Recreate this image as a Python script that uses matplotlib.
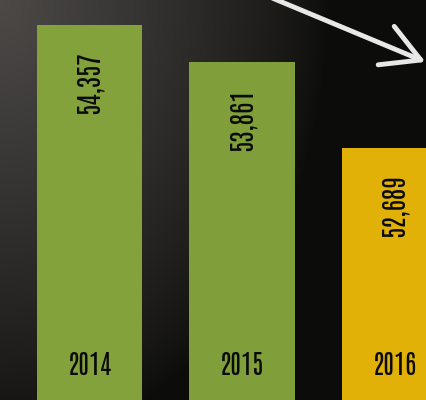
import numpy as np
import matplotlib
matplotlib.use("Agg")
import matplotlib.pyplot as plt

years = ["2014", "2015", "2016"]
visitors = [54357, 53861, 52689]
value_labels = ["54,357", "53,861", "52,689"]
bar_colors = ["#83a23c", "#809f3a", "#e1b108"]

plt.rcParams['font.family'] = ['Antonio', 'DejaVu Sans']

fig = plt.figure(figsize=(4.27, 4.00), dpi=100)

# dark chalkboard-like background
bg = fig.add_axes([0, 0, 1, 1])
bg.set_axis_off()
yy, xx = np.mgrid[0:1:200j, 0:1:214j]
light = np.clip(1.0 - np.hypot(xx * 1.3, yy * 0.9), 0, 1)
img = np.zeros((200, 214, 3))
base = np.array([0.05, 0.05, 0.04])
top = np.array([0.30, 0.29, 0.28])
for c in range(3):
    img[..., c] = base[c] + (top[c] - base[c]) * light ** 0.8
bg.imshow(img, extent=[0, 1, 1, 0], aspect="auto")
bg.set_xlim(0, 1)
bg.set_ylim(1, 0)

ax = fig.add_axes([0, 0, 1, 1])
ax.patch.set_alpha(0)
x = np.arange(len(years))
ax.bar(x, visitors, width=0.69, color=bar_colors, bottom=0)
ax.set_xlim(-0.587, 2.213)
ax.set_ylim(49272, 54696)
ax.set_axis_off()

for i, (v, lab) in enumerate(zip(visitors, value_labels)):
    ax.annotate(lab, (i, v), xytext=(0, -19), textcoords="offset points",
                rotation=90, ha="center", va="top", fontsize=19.5, color="#0a0a0a")
    ax.text(i, 0.088, years[i], transform=ax.get_xaxis_transform(),
            ha="center", va="center", fontsize=19, color="#0a0a0a")

# downward trend arrow
fig.patches.append(matplotlib.patches.FancyArrowPatch(
    (265 / 427, 1 + 5 / 400), (428 / 427, 1 - 63 / 400),
    transform=fig.transFigure, arrowstyle="->,head_length=9,head_width=5",
    color="#e8e8e8", lw=3.5, mutation_scale=3))

fig.savefig("out.png", dpi=100)
